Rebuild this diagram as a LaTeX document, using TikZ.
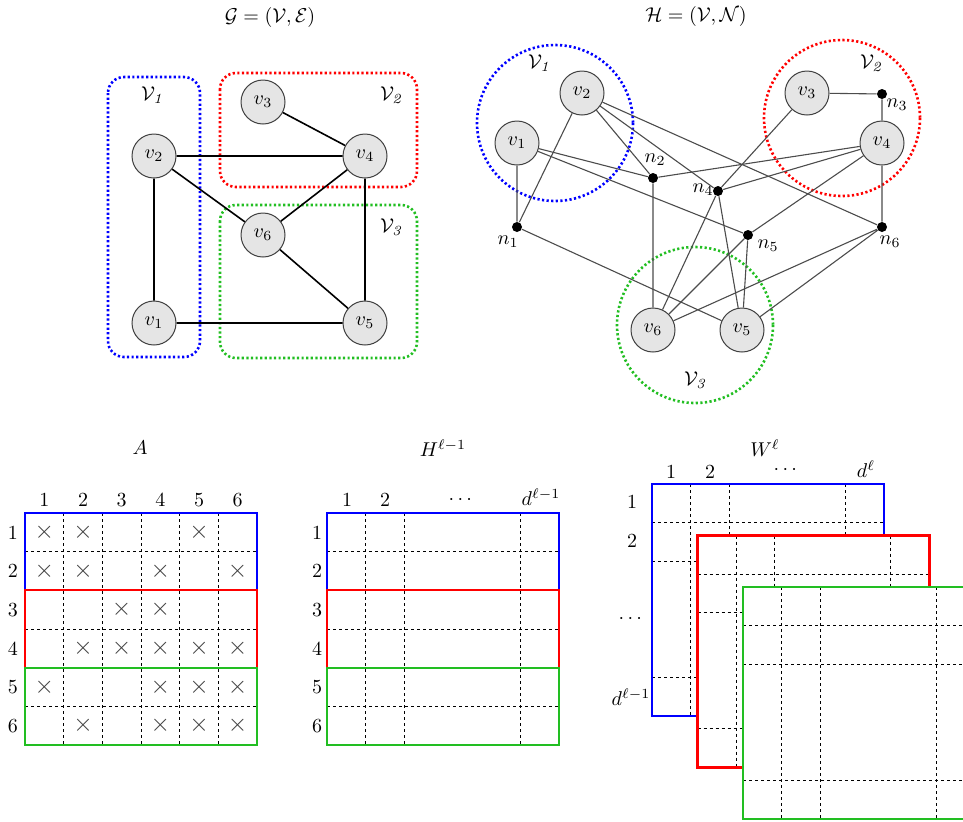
\documentclass[tikz,border=0pt]{standalone}
\usepackage{amsmath,amssymb}
\usepackage{xcolor}
\usepackage{tikz}

\definecolor{grpgreen}{RGB}{34,190,34}

\tikzset{
  vtx/.style={circle, draw=black!75, fill=black!10, line width=0.5pt, minimum size=22pt, inner sep=0pt},
  pin/.style={circle, fill=black, inner sep=0pt, minimum size=5pt},
  part/.style={line width=1.3pt, dash pattern=on 1.1pt off 1.2pt},
  edge/.style={line width=0.8pt},
  hedge/.style={black!70, line width=0.55pt},
  cell/.style={dash pattern=on 1.6pt off 1.4pt, line width=0.4pt},
  blk/.style={line width=0.9pt},
  nzmark/.style={black!75, scale=1.25},
}

\begin{document}
\begin{tikzpicture}[x=0.5pt, y=-0.5pt]
  \useasboundingbox (0,0) rectangle (963,821);

  % graph G with its three parts
  \node (gtitle) at (270,17) {$\mathcal{G} = (\mathcal{V}, \mathcal{E})$};
  \draw[part, blue, rounded corners=8pt] (108,77) rectangle (200,357);
  \draw[part, red, rounded corners=8pt] (220,73) rectangle (417,187);
  \draw[part, grpgreen, rounded corners=8pt] (220,205) rectangle (417,358);
  \node (gp1) at (153,95) {$\mathcal{V}_{\mathit{1}}$};
  \node (gp2) at (392,95) {$\mathcal{V}_{\mathit{2}}$};
  \node (gp3) at (392,227) {$\mathcal{V}_{\mathit{3}}$};

  \node[vtx] (g1) at (154,323) {$v_1$};
  \node[vtx] (g2) at (154,156) {$v_2$};
  \node[vtx] (g3) at (263,102) {$v_3$};
  \node[vtx] (g4) at (365,156) {$v_4$};
  \node[vtx] (g5) at (365,323) {$v_5$};
  \node[vtx] (g6) at (263,235) {$v_6$};
  \draw[edge] (g3) -- (g4) (g2) -- (g4) (g2) -- (g6) (g2) -- (g1)
              (g4) -- (g6) (g4) -- (g5) (g6) -- (g5) (g1) -- (g5);

  % hypergraph H, nets as black dots
  \node (htitle) at (696,16) {$\mathcal{H} = (\mathcal{V}, \mathcal{N})$};
  \draw[part, blue] (555,123) circle (78);
  \draw[part, red] (842,118) circle (78);
  \draw[part, grpgreen] (695,325) circle (78);
  \node (hp1) at (540,63) {$\mathcal{V}_{\mathit{1}}$};
  \node (hp2) at (872,63) {$\mathcal{V}_{\mathit{2}}$};
  \node (hp3) at (696,380) {$\mathcal{V}_{\mathit{3}}$};

  \node[vtx] (h1) at (517,143) {$v_1$};
  \node[vtx] (h2) at (582,93) {$v_2$};
  \node[vtx] (h3) at (807,93) {$v_3$};
  \node[vtx] (h4) at (882,143) {$v_4$};
  \node[vtx] (h5) at (742,330) {$v_5$};
  \node[vtx] (h6) at (653,330) {$v_6$};

  \node[pin] (n1) at (517,227) {};
  \node[pin] (n2) at (653,178) {};
  \node[pin] (n3) at (882,94) {};
  \node[pin] (n4) at (718,191) {};
  \node[pin] (n5) at (748,235) {};
  \node[pin] (n6) at (882,227) {};
  \node (n1lab) at (508,242) {$n_1$};
  \node (n2lab) at (655,160) {$n_2$};
  \node (n3lab) at (897,105) {$n_3$};
  \node (n4lab) at (703,190) {$n_4$};
  \node (n5lab) at (768,246) {$n_5$};
  \node (n6lab) at (890,242) {$n_6$};

  \draw[hedge] (h1) -- (n1) (h2) -- (n1) (n1) -- (h5);
  \draw[hedge] (h1) -- (n2) (h2) -- (n2) (h4) -- (n2) (n2) -- (h6);
  \draw[hedge] (h3) -- (n3) (h4) -- (n3);
  \draw[hedge] (h2) -- (n4) (h3) -- (n4) (h4) -- (n4) (n4) -- (h6) (n4) -- (h5);
  \draw[hedge] (h1) -- (n5) (h4) -- (n5) (n5) -- (h6) (n5) -- (h5);
  \draw[hedge] (h2) -- (n6) (h4) -- (n6) (n6) -- (h6) (n6) -- (h5);

  % adjacency matrix A
  \node (atitle) at (140,448) {$A$};
  \foreach \i in {1,...,6} {
    \node (acol\i) at ({25+(\i-0.5)*38.67},500) {\i};
    \node (arow\i) at (13,{513+(\i-0.5)*38.67}) {\i};
  }
  \foreach \i in {1,...,5} {
    \draw[cell] ({25+\i*38.67},513) -- ({25+\i*38.67},745);
    \draw[cell] (25,{513+\i*38.67}) -- (257,{513+\i*38.67});
  }
  \foreach \r/\c in {1/1,1/2,1/5,2/1,2/2,2/4,2/6,3/3,3/4,4/2,4/3,4/4,4/5,4/6,
                     5/1,5/4,5/5,5/6,6/2,6/4,6/5,6/6}
    \node[nzmark] (nz\r\c) at ({25+(\c-0.5)*38.67},{513+(\r-0.5)*38.67}) {$\times$};
  \draw[blk, blue] (25,513) rectangle (257,590.3);
  \draw[blk, red] (25,590.3) rectangle (257,667.7);
  \draw[blk, grpgreen] (25,667.7) rectangle (257,745);

  % feature matrix H^{l-1}
  \node (htitle2) at (443,448) {$H^{\ell-1}$};
  \node (hcol1) at (347,500) {1};
  \node (hcol2) at (385,500) {2};
  \node (hcol3) at (462,500) {$\cdots$};
  \node (hcol4) at (541,497) {$d^{\ell-1}$};
  \foreach \i in {1,...,6}
    \node (hrow\i) at (317,{513+(\i-0.5)*38.67}) {\i};
  \foreach \u in {38.67,77.33,193.33}
    \draw[cell] ({327+\u},513) -- ({327+\u},745);
  \foreach \i in {1,...,5}
    \draw[cell] (327,{513+\i*38.67}) -- (559,{513+\i*38.67});
  \draw[blk, blue] (327,513) rectangle (559,590.3);
  \draw[blk, red] (327,590.3) rectangle (559,667.7);
  \draw[blk, grpgreen] (327,667.7) rectangle (559,745);

  % stacked weight matrices W^l, one per part
  \node (wtitle) at (765,448) {$W^{\ell}$};
  \node (wcol1) at (671,472) {1};
  \node (wcol2) at (710,472) {2};
  \node (wcol3) at (787,470) {$\cdots$};
  \node (wcol4) at (866,469) {$d^{\ell}$};
  \node (wrow1) at (632,502) {1};
  \node (wrow2) at (632,541) {2};
  \node (wrow3) at (632,619) {$\cdots$};
  \node (wrow4) at (631,697) {$d^{\ell-1}$};
  \foreach \dx/\dy/\col in {0/0/blue, 45.5/51.5/red, 91/103/grpgreen} {
    \begin{scope}[shift={(\dx,\dy)}]
      \fill[white] (652,484) rectangle (884,716);
      \foreach \u in {38.67,77.33,193.33} {
        \draw[cell] ({652+\u},484) -- ({652+\u},716);
        \draw[cell] (652,{484+\u}) -- (884,{484+\u});
      }
      \draw[\col, line width=1.2pt] (652,484) rectangle (884,716);
    \end{scope}
  }
\end{tikzpicture}
\end{document}
